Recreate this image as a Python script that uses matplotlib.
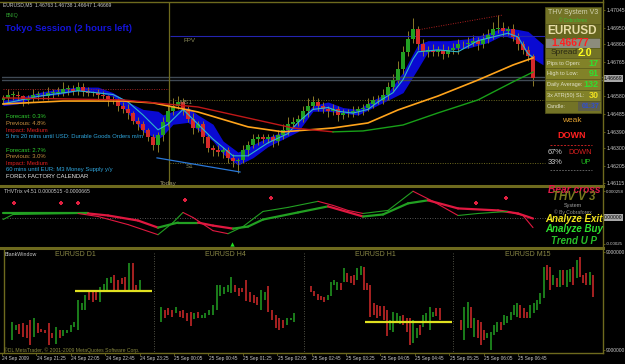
import numpy as np
import matplotlib.pyplot as plt
from matplotlib.patches import Rectangle

plt.rcParams['font.family'] = ['Liberation Sans', 'DejaVu Sans']

W, H = 625, 364
OLIVE = '#6e6a1e'
TXT = '#c8c8c8'

# ---------------- main chart: EURUSD M5 candles ----------------
closes = [1.4657, 1.4659, 1.4659, 1.4658, 1.4656, 1.4657, 1.4659, 1.4659, 1.4658, 1.4660,
          1.4660, 1.4660, 1.4662, 1.4662, 1.4661, 1.4663, 1.4661, 1.4660, 1.4660, 1.4659,
          1.4658, 1.4656, 1.4656, 1.4653, 1.4651, 1.4649, 1.4645, 1.4643, 1.4640, 1.4636,
          1.4632, 1.4637, 1.4644, 1.4650, 1.4653, 1.4655, 1.4651, 1.4646, 1.4641, 1.4643,
          1.4636, 1.4630, 1.4629, 1.4628, 1.4629, 1.4625, 1.4623, 1.4624, 1.4629, 1.4632,
          1.4635, 1.4636, 1.4635, 1.4636, 1.4634, 1.4637, 1.4640, 1.4643, 1.4644, 1.4646,
          1.4650, 1.4653, 1.4655, 1.4653, 1.4651, 1.4650, 1.4651, 1.4648, 1.4649, 1.4649,
          1.4650, 1.4651, 1.4652, 1.4654, 1.4656, 1.4656, 1.4659, 1.4663, 1.4667, 1.4673,
          1.4682, 1.4689, 1.4694, 1.4686, 1.4682, 1.4683, 1.4682, 1.4683, 1.4681, 1.4683,
          1.4684, 1.4686, 1.4686, 1.4687, 1.4688, 1.4686, 1.4689, 1.4691, 1.4694, 1.4695,
          1.4693, 1.4694, 1.4690, 1.4686, 1.4683, 1.4680, 1.46677]
first_open = 1.4656
# wick length above / below the body, in pips
wick_up = [2, 3, 2, 2, 1, 2, 3, 2, 2, 3, 2, 3, 4, 2, 2, 3, 2, 2, 1, 2,
           2, 1, 2, 1, 2, 3, 1, 2, 2, 1, 2, 2, 3, 3, 4, 3, 2, 2, 3, 2,
           2, 1, 2, 3, 2, 2, 2, 1, 3, 2, 3, 2, 2, 2, 2, 3, 3, 4, 3, 2,
           3, 4, 3, 2, 2, 2, 3, 2, 2, 2, 3, 2, 2, 3, 2, 3, 3, 3, 3, 4,
           3, 4, 6, 2, 3, 2, 3, 2, 3, 2, 3, 3, 2, 3, 3, 2, 3, 3, 4, 7,
           3, 2, 3, 2, 2, 2, 1]
wick_dn = [2, 2, 3, 2, 3, 2, 2, 3, 2, 2, 3, 2, 2, 3, 2, 2, 3, 2, 2, 3,
           2, 3, 2, 3, 2, 3, 2, 3, 3, 2, 3, 4, 3, 2, 2, 2, 3, 2, 3, 2,
           3, 2, 3, 2, 3, 3, 3, 6, 2, 3, 2, 3, 2, 2, 3, 2, 2, 3, 2, 2,
           2, 3, 2, 3, 2, 3, 2, 3, 2, 2, 2, 2, 3, 2, 2, 2, 2, 3, 2, 2,
           3, 2, 2, 3, 2, 3, 2, 2, 3, 2, 2, 3, 2, 2, 2, 3, 2, 2, 2, 2,
           3, 2, 2, 3, 2, 3, 4]

# blue cloud (two smoothed lines), cyan MA, orange MA, slow MA
cloud_idx = [0, 3, 7, 11, 15, 19, 22, 25, 28, 31, 32, 34, 37, 39, 42, 44, 47, 50, 53,
             56, 59, 62, 65, 68, 71, 74, 77, 80, 83, 85, 89, 93, 97, 100, 103, 105, 108]
cloud_top = [1.4656, 1.4657, 1.4660, 1.4662, 1.4663, 1.4663, 1.4660, 1.4655, 1.4651, 1.4650,
             1.4648, 1.4650, 1.4652, 1.4648, 1.4643, 1.4634, 1.4628, 1.4632, 1.4636, 1.4639,
             1.4644, 1.4653, 1.4655, 1.4652, 1.4651, 1.4656, 1.4660, 1.4671, 1.4686, 1.4688,
             1.4688, 1.4689, 1.4692, 1.4695, 1.4694, 1.4693, 1.4686]
cloud_bot = [1.4653, 1.4654, 1.4658, 1.4659, 1.4661, 1.4660, 1.4658, 1.4649, 1.4639, 1.4635,
             1.4637, 1.4643, 1.4644, 1.4640, 1.4634, 1.4627, 1.4621, 1.4625, 1.4631, 1.4635,
             1.4639, 1.4650, 1.4650, 1.4649, 1.4648, 1.4652, 1.4656, 1.4660, 1.4673, 1.4682,
             1.4683, 1.4684, 1.4687, 1.4691, 1.4688, 1.4680, 1.4675]
cyan_idx = [0, 7, 15, 22, 25, 28, 31, 33, 36, 39, 42, 46, 49, 53, 57, 59, 62, 65, 67, 70,
            73, 75, 78, 80, 82, 83, 87, 91, 95, 101, 103, 105, 106]
cyan_val = [1.4654, 1.4658, 1.4661, 1.4659, 1.4655, 1.4648, 1.4640, 1.4643, 1.4651, 1.4643,
            1.4635, 1.4626, 1.4626, 1.4633, 1.4638, 1.4644, 1.4651, 1.4652, 1.4650, 1.4649,
            1.4651, 1.4655, 1.4660, 1.4667, 1.4678, 1.4682, 1.4683, 1.4682, 1.4688, 1.4692,
            1.4690, 1.4681, 1.4679]
orange_idx = [0, 12, 24, 30, 39, 49, 56, 66, 73, 79, 87, 95, 102, 106]
orange_val = [1.46539, 1.46555, 1.46555, 1.46545, 1.46496, 1.46416, 1.46389, 1.46410,
              1.46437, 1.46507, 1.46582, 1.46668, 1.46749, 1.46787]
slow_idx = [0, 24, 39, 58, 66, 72, 80, 87, 95, 102, 106]
slow_val = [1.46572, 1.46561, 1.46523, 1.46410, 1.46389, 1.46394, 1.46426, 1.46491,
            1.46561, 1.46658, 1.46711]
slow_turn = 4  # position in slow_idx where the line turns from red to green

fpv_level, ms1_level, s1_level, prev_level = 1.46905, 1.46561, 1.46222, 1.46620
bid, ask = 1.46668, 1.46684
support_idx, support_val = [30.8, 47.4], [1.46249, 1.46173]
resist_idx, resist_val = [82.8, 100.0], [1.46937, 1.47018]
price_ticks = [1.47045, 1.46950, 1.46860, 1.46765, 1.46580, 1.46485, 1.46390,
               1.46300, 1.46205, 1.46115]

# ---------------- THVTrix sub window ----------------
fast_idx = [0, 2, 15, 19, 25, 31, 34, 36, 38, 42, 45, 48, 52, 57, 63, 66, 69, 72, 77, 82,
            86, 91, 95, 101, 104, 106]
fast_val = [-0.00002, 0.00003, 0.00004, 0.00001, -0.00007, -0.00017, -0.00005, 0.00005, 0.0,
            -0.00013, -0.00016, -0.00009, 0.00006, 0.0001, 0.00016, 0.00012, 0.00007, 0.00004,
            0.00007, 0.00026, 0.00016, 0.00002, 0.00004, 0.00006, 0.00002, -0.0001]
slow2_idx = [0, 17, 21, 27, 31, 35, 39, 42, 46, 49, 52, 59, 65, 72, 76, 81, 85, 91, 99, 103, 106]
slow2_val = [0.00004, 0.00004, 0.00002, -0.00003, -0.0001, -0.00005, -0.00005, -0.00008,
             -0.00011, -0.00009, -0.00002, 0.00005, 0.00011, 0.00001, 0.00003, 0.00014,
             0.00017, 0.00009, 0.00007, 0.00004, -0.00001]
arrow_dn_idx = [2.2, 11.6, 15, 36.4, 53.6, 94.6, 100.6]
arrow_dn_val = [0.000146, 0.000146, 0.000146, 0.000175, 0.000195, 0.000146, 0.000195]
arrow_up_idx = [45.8]
arrow_up_val = [-0.000263]

# ---------------- mini charts (levels in window units) ----------------
d1_hi = [30, 27, 28, 29, 27, 32, 34, 29, 23, 22, 29, 19, 25, 22, 22, 22, 27, 30, 52, 49,
         57, 60, 60, 62, 65, 68, 74, 75, 77, 72, 74, 75, 89, 89, 67, 72]
d1_lo = [12, 22, 18, 15, 14, 7, 15, 19, 20, 19, 7, 14, 8, 14, 16, 19, 20, 25, 22, 42,
         42, 52, 50, 52, 50, 60, 62, 69, 62, 60, 68, 62, 62, 62, 62, 60]
d1_dir = "ggrrrrgrrr" "rrgrgggggg" "grrrggggrr" "rrgrrg"
d1_level = 61
h4_hi = [45, 42, 44, 42, 45, 41, 42, 39, 40, 39, 40, 37, 39, 42, 47, 67, 67, 65, 67, 75,
         67, 64, 64, 72, 60, 57, 55, 62, 60, 66, 42, 37, 34, 32, 34, 34, 39]
h4_lo = [30, 34, 37, 35, 39, 35, 34, 31, 26, 33, 34, 34, 34, 37, 37, 42, 56, 58, 60, 59,
         60, 56, 60, 51, 50, 49, 47, 42, 52, 40, 32, 24, 22, 24, 27, 32, 30]
h4_dir = "grrrgrrrrg" "rggggggggg" "rrrrrrrggr" "rrrrggg"
h1_hi = [66, 61, 58, 56, 55, 57, 70, 72, 70, 69, 84, 79, 76, 77, 84, 86, 85, 69, 67, 49,
         47, 46, 46, 42, 32, 40, 39, 36, 37, 34, 34, 32, 24, 27, 37, 39, 45, 40, 44, 44]
h1_lo = [60, 56, 52, 52, 50, 52, 56, 67, 62, 62, 70, 70, 69, 67, 72, 77, 62, 62, 35, 37,
         34, 36, 32, 16, 22, 20, 29, 28, 27, 20, 7, 9, 14, 17, 25, 30, 22, 35, 36, 32]
h1_dir = "rrrrrggggr" "grrrggrrrr" "rrrrggggrr" "rggrggggrr"
h1_level = 30
m15_hi = [32, 45, 50, 45, 34, 32, 30, 22, 19, 20, 27, 30, 30, 37, 36, 40, 47, 49, 47, 44,
          40, 47, 49, 52, 59, 85, 87, 85, 77, 74, 82, 82, 82, 83, 85, 92, 95, 77, 79, 80, 77]
m15_lo = [22, 12, 24, 24, 15, 14, 7, 12, 14, 2, 17, 20, 22, 27, 29, 32, 37, 35, 34, 34,
          34, 34, 39, 42, 48, 54, 72, 62, 67, 65, 65, 67, 65, 70, 67, 74, 75, 69, 67, 67, 55]
m15_dir = "rggrgrrrgg" "ggrgggggrr" "rgggggrrgr" "grggrgrrrg" "r"

date_labels = ["24 Sep 2009", "24 Sep 21:25", "24 Sep 22:05", "24 Sep 22:45", "24 Sep 23:25",
               "25 Sep 00:05", "25 Sep 00:45", "25 Sep 01:25", "25 Sep 02:05", "25 Sep 02:45",
               "25 Sep 03:25", "25 Sep 04:05", "25 Sep 04:45", "25 Sep 05:25", "25 Sep 06:05",
               "25 Sep 06:45"]

forecast_lines = [("Forecast: 0.3%", '#30d030'), ("Previous: 4.8%", '#c89040'),
                  ("Impact: Medium", '#e02020'),
                  ("5 hrs 20 mins until USD: Durable Goods Orders m/m", '#30a8e0'),
                  ("", TXT),
                  ("Forecast: 2.7%", '#30d030'), ("Previous: 3.0%", '#c89040'),
                  ("Impact: Medium", '#e02020'),
                  ("60 mins until EUR: M3 Money Supply y/y", '#30a8e0'),
                  ("FOREX FACTORY CALENDAR", '#e8e8e8')]

fig = plt.figure(figsize=(6.25, 3.64), dpi=100, facecolor='black')


def px_axes(x0, y0, x1, y1):
    ax = fig.add_axes([x0 / W, 1 - y1 / H, (x1 - x0) / W, (y1 - y0) / H])
    ax.set_facecolor('none')
    for s in ax.spines.values():
        s.set_visible(False)
    ax.set_xticks([])
    ax.set_yticks([])
    return ax


def right_ticks(ax, ticks, labels, size=3.7):
    ax.yaxis.tick_right()
    ax.set_yticks(ticks)
    ax.set_yticklabels(labels)
    ax.tick_params(axis='y', colors=OLIVE, labelcolor=TXT, labelsize=size,
                   length=1.5, width=0.6, pad=0.8)


XL = (-0.2, 120)

# ---------------- main chart ----------------
ax = px_axes(2, 2, 603, 185)
ax.set_xlim(*XL)
ax.set_ylim(1.46103, 1.47088)

ax.fill_between(cloud_idx, cloud_bot, cloud_top, color='#0a0ad2', lw=0, zorder=1)

opens = [first_open] + closes[:-1]
for i, (o, c) in enumerate(zip(opens, closes)):
    top, bot = max(o, c), min(o, c)
    ax.vlines(i, bot - wick_dn[i] * 1e-4, top + wick_up[i] * 1e-4,
              color='#8c7a28', lw=0.7, zorder=2)
    col = '#22a022' if c >= o else '#d42a2a'
    ax.bar(i, max(top - bot, 0.00003), bottom=bot, width=0.62, color=col, lw=0, zorder=3)

ax.plot(cyan_idx, cyan_val, color='#30b8c8', lw=0.8, zorder=4)
ax.plot(orange_idx, orange_val, color='#ffa41c', lw=1.2, zorder=4)
ax.plot(slow_idx[:slow_turn + 1], slow_val[:slow_turn + 1], color='#c01818', lw=1.0, zorder=4)
ax.plot(slow_idx[slow_turn:], slow_val[slow_turn:], color='#18a018', lw=1.0, zorder=4)

ax.hlines(fpv_level, 33.4, 108.4, color='#2424b0', lw=0.8, zorder=2)
ax.hlines([ms1_level, s1_level], 33.4, 108.4, color='#6e6a1e', lw=0.7, ls=(0, (1, 1.5)), zorder=2)
ax.hlines(prev_level, 0, 33.2, color='#a02020', lw=0.7, ls=(0, (1, 1.5)), zorder=2)
ax.axhline(ask, color='#404a55', lw=1.0, zorder=2)
ax.axhline(bid, color='#404a55', lw=1.0, zorder=2)
ax.axvline(33.2, color=OLIVE, lw=0.9, zorder=2)
ax.plot(support_idx, support_val, color='#2a78d8', lw=0.9, zorder=4)
ax.plot(resist_idx, resist_val, color='#b02020', lw=0.7, ls=(0, (1, 1.5)), zorder=4)

right_ticks(ax, price_ticks, [f"{p:.5f}" for p in price_ticks])
ax.text(1.0015, closes[-1], "1.46669", transform=ax.get_yaxis_transform(), fontsize=3.7,
        color='black', va='center', ha='left',
        bbox=dict(fc='#a8a8a8', ec='none', pad=0.5), clip_on=False, zorder=6)

# ---------------- indicator window ----------------
ai = px_axes(2, 188, 603, 246)
ai.set_xlim(*XL)
ai.set_ylim(-0.000282, 0.000292)
ai.axhline(0, color='#707070', lw=0.6, ls=(0, (1, 2)))


def slope_line(a, xs, ys, lw):
    for k in range(len(xs) - 1):
        col = '#e01840' if ys[k + 1] < ys[k] else '#22a022'
        a.plot(xs[k:k + 2], ys[k:k + 2], color=col, lw=lw, solid_capstyle='round')


slope_line(ai, slow2_idx, slow2_val, 1.6)
slope_line(ai, fast_idx, fast_val, 0.8)
ai.scatter(arrow_dn_idx, arrow_dn_val, marker='P', s=9, color='#e02040', lw=0)
ai.scatter(arrow_up_idx, arrow_up_val, marker='^', s=10, color='#20e020', lw=0)
right_ticks(ai, [0.000258, -0.000258], ["0.000258", "-0.00025"], size=3.2)
ai.text(1.0015, 0, "0.00000", transform=ai.get_yaxis_transform(), fontsize=3.6,
        color='black', va='center', ha='left',
        bbox=dict(fc='#a8a8a8', ec='none', pad=0.5), clip_on=False)

# ---------------- blank window with four mini charts ----------------
ab = px_axes(2, 249, 603, 352)
ab.set_ylim(0, 103)
right_ticks(ab, [2, 100], ["9000000", "9000000"], size=3.5)


def mini(x0, x1, first_x, step, hi, lo, dirs, level=None, lvl_from=None):
    m = px_axes(x0, 249, x1, 352)
    m.set_ylim(0, 103)
    m.set_xlim(-(first_x - x0) / step, (x1 - first_x) / step)
    idx = np.arange(len(hi))
    cols = ['#22a022' if d == 'g' else '#d42a2a' for d in dirs]
    m.vlines(idx, lo, hi, colors=cols, lw=1.1)
    if level is not None:
        m.hlines(level, lvl_from, (x1 - first_x) / step, color='#e0e020', lw=1.6)
    return m


mini(5, 152, 12, 3.66, d1_hi, d1_lo, d1_dir, d1_level, 17.2)
mini(155, 302, 161, 3.7, h4_hi, h4_lo, h4_dir)
mini(305, 452, 311, 3.3, h1_hi, h1_lo, h1_dir, h1_level, 16.4)
mini(455, 600, 461, 3.3, m15_hi, m15_lo, m15_dir)

# ---------------- overlay: frames and texts ----------------
ov = fig.add_axes([0, 0, 1, 1])
ov.set_xlim(0, W)
ov.set_ylim(H, 0)
ov.axis('off')
ov.set_facecolor('none')

ov.plot([0, 603], [1.5, 1.5], color=OLIVE, lw=1)
ov.plot([0, 603], [186, 186], color=OLIVE, lw=2.2)
ov.plot([0, 603], [247.5, 247.5], color=OLIVE, lw=2.2)
ov.plot([0, 603], [352.5, 352.5], color=OLIVE, lw=1)
ov.plot([603, 603], [0, 353], color=OLIVE, lw=1)
ov.plot([3.5, 3.5], [249, 352], color=OLIVE, lw=1)
for xs in (154, 304, 453):
    ov.plot([xs, xs], [253, 352], color='#6a6a5a', lw=0.6, ls=(0, (1, 2)))

ov.text(3, 5, "EURUSD,M5  1.46763 1.46738 1.46647 1.46669", fontsize=3.6, color=TXT, va='center')
ov.text(6, 15, "BNIQ", fontsize=3.8, color='#30a030', va='center')
ov.text(5, 28.5, "Tokyo Session (2 hours left)", fontsize=6.8, color='#1414d8',
        fontweight='bold', va='center')
ov.text(183, 40, "FPV", fontsize=4.5, color='#8a8a5a', va='center')
ov.text(179, 103, "MS1", fontsize=4.5, color='#8a8a5a', va='center')
ov.text(186, 166, "S1", fontsize=4.5, color='#8a8a5a', va='center')
ov.text(160, 183.5, "Today", fontsize=4.5, color='#a09a70', va='center')

for k, (t, c) in enumerate(forecast_lines):
    ov.text(6, 117 + k * 6.6, t, fontsize=4.2, color=c, va='center')

# info panel
ov.add_patch(Rectangle((545, 7), 56, 106, fc='#737326', ec='#505018', lw=0.6))
ov.add_patch(Rectangle((546, 24), 54, 14, fc='#66661f', ec='none'))
ov.add_patch(Rectangle((546, 38), 54, 10, fc='#8c8c7c', ec='none'))
ov.add_patch(Rectangle((546, 58), 54, 43, fc='#828228', ec='none'))
ov.add_patch(Rectangle((578, 101), 22, 10, fc='#5e5e48', ec='none'))
for yy in (24, 38, 48, 58, 68, 79, 90, 101):
    ov.plot([546, 600], [yy, yy], color='#55551a', lw=0.5)
ov.text(573, 13, "THV System V3", fontsize=5, color='#d2d2b0', ha='center', va='center')
ov.text(573, 20, "© Cobraforex", fontsize=3.3, color='#30c030', ha='center', va='center')
ov.text(572, 31.5, "EURUSD", fontsize=8.5, color='#e6dca6', ha='center', va='center',
        fontweight='bold')
ov.text(570, 43, "1.46677", fontsize=7.5, color='#ff2020', ha='center', va='center',
        fontweight='bold')
ov.text(551, 53, "Spread", fontsize=6, color='#2a2a14', va='center')
ov.text(578, 53, "2.0", fontsize=7.5, color='#ffff20', va='center', fontweight='bold')
rows = [("Pips to Open:", "17", '#30e030', 63), ("High to Low:", "91", '#30e030', 73.5),
        ("Daily Average:", "132", '#30e030', 84.5), ("3x ATR(50) SL:", "30", '#f0e020', 95.5),
        ("Candle:", "01:37", '#3050d0', 106)]
for lab, val, col, yy in rows:
    ov.text(547, yy, lab, fontsize=4, color='#e0e0c8', va='center')
    ov.text(599, yy, val, fontsize=6.5 if len(val) < 4 else 5, color=col, va='center',
            ha='right', fontweight='bold')

ov.text(572, 120, "weak", fontsize=6, color='#e0a030', ha='center', va='center')
ov.text(572, 135, "DOWN", fontsize=6.5, color='#ff2020', ha='center', va='center',
        fontweight='bold')
ov.plot([550, 592], [145, 145], color='#c02020', lw=0.7, ls=(0, (2, 1.5)))
ov.text(548, 152, "67%", fontsize=5.3, color='#d0d0d0', va='center')
ov.text(592, 152, "DOWN", fontsize=5.3, color='#e02020', va='center', ha='right')
ov.text(548, 163, "33%", fontsize=5.3, color='#d0d0d0', va='center')
ov.text(591, 163, "UP", fontsize=5.3, color='#20c020', va='center', ha='right')
ov.plot([550, 592], [170, 170], color='#707070', lw=0.6, ls=(0, (2, 1.5)))

# indicator window texts
ov.text(4, 191.5, "THVTrix v4.51 0.0000515 -0.0000665", fontsize=3.7, color=TXT, va='center')
ov.text(574, 190, "Bear cross", fontsize=7.3, color='#e01a48', ha='center', va='center',
        fontweight='bold', style='italic')
ov.text(574, 197, "THV V 3", fontsize=8.3, color='#78781e', ha='center', va='center',
        fontweight='bold', style='italic')
ov.text(573, 205, "System", fontsize=4, color='#a0a0a0', ha='center', va='center')
ov.text(573, 212, "© By Cobraforex", fontsize=3.6, color='#909090', ha='center', va='center')
ov.text(574, 219, "Analyze Exit", fontsize=7, color='#f2e41e', ha='center', va='center',
        fontweight='bold', style='italic')
ov.text(574, 229, "Analyze Buy", fontsize=7, color='#2ee02e', ha='center', va='center',
        fontweight='bold', style='italic')
ov.text(574, 240.5, "Trend U P", fontsize=7, color='#28c028', ha='center', va='center',
        fontweight='bold', style='italic')

# blank window texts
ov.text(5, 254, "BlankWindow", fontsize=3.8, color=TXT, va='center')
for x, t in ((55, "EURUSD D1"), (205, "EURUSD H4"), (355, "EURUSD H1"), (505, "EURUSD M15")):
    ov.text(x, 254.5, t, fontsize=5, color='#8c8a46', va='center')
ov.text(4, 350, "©DL MetaTrader, © 2001-2009 MetaQuotes Software Corp.", fontsize=3.7,
        color='#8a8a40', va='center')

for k, t in enumerate(date_labels):
    xx = 2 + 34.4 * k
    ov.plot([xx, xx], [352.5, 355], color=OLIVE, lw=0.6)
    ov.text(xx + 0.5, 358.5, t, fontsize=3.4, color=TXT, va='center', ha='left')

fig.savefig('out.png', dpi=100, facecolor='black')
